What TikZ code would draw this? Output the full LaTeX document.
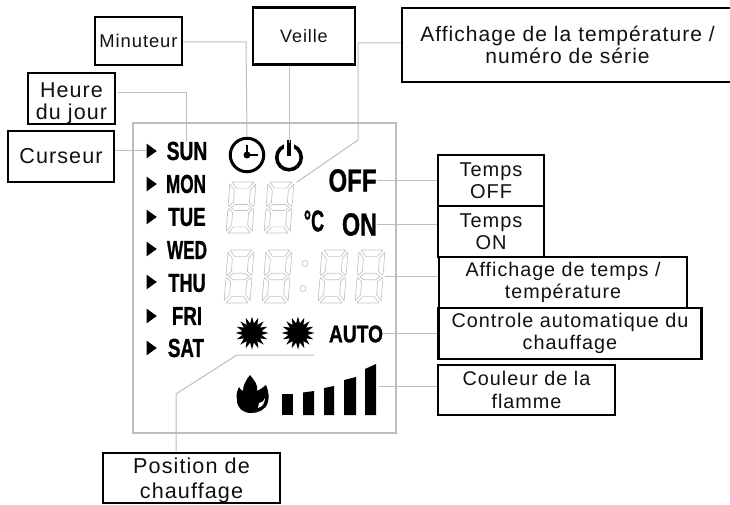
\documentclass[tikz,border=0pt]{standalone}
\usepackage{fontspec}
\setmainfont{Liberation Sans}
\newfontfamily\labfont[LetterSpace=5]{Liberation Sans}
\newfontfamily\lcdfont[UprightFont=* Bold,FakeBold=1.2]{Liberation Sans}
\usetikzlibrary{arrows.meta,shapes.geometric}
\definecolor{lcdgray}{HTML}{BDBDBD}
\definecolor{seggray}{HTML}{C4C4C4}
\definecolor{ink}{HTML}{111111}
\newcommand{\segdigit}[3]{%
\begin{scope}[shift={(#1+4,#2)},yscale=#3/50,xslant=0.08,seg]
\draw (3,0)--(25,0)--(20,6)--(8,6)--cycle;
\draw (3,50)--(25,50)--(20,44)--(8,44)--cycle;
\draw (4,25)--(8,22)--(20,22)--(24,25)--(20,28)--(8,28)--cycle;
\draw (1,2)--(6,8)--(6,20)--(2,24)--(1,22)--cycle;
\draw (27,2)--(22,8)--(22,20)--(26,24)--(27,22)--cycle;
\draw (1,48)--(6,42)--(6,30)--(2,26)--(1,28)--cycle;
\draw (27,48)--(22,42)--(22,30)--(26,26)--(27,28)--cycle;
\end{scope}}
\tikzset{
 x=1pt,y=-1pt,
 lab/.style={draw=black,line width=2.2pt,fill=white,inner sep=0pt,align=center,text=ink},
 lz/.style={font=\labfont\fontsize{#1}{22.5}\selectfont},
 lead/.style={draw=lcdgray,line width=1pt},
 seg/.style={draw=seggray,line width=.7pt,line join=round},
 lcd/.style={inner sep=0pt,text=black,transform shape,font=\lcdfont\fontsize{26}{26}\selectfont},
 cursor/.style={fill=black,draw=none,regular polygon,regular polygon sides=3,shape border rotate=-90,inner sep=0pt,minimum size=17pt},
 bar/.style={fill=black,draw=none},
}
\begin{document}
\begin{tikzpicture}
\useasboundingbox (0,0) rectangle (730,505);
% LCD frame
\node[draw=lcdgray,line width=1.2pt,minimum width=263,minimum height=310,inner sep=0pt] (frame) at (264.5,278) {};
% Labels
\node[lab,lz=18.4,minimum width=87,minimum height=48] (minuteur) at (138.5,41) {Minuteur};
\node[lab,lz=18,minimum width=102,minimum height=57] (veille) at (304,36) {Veille};
\node[lab,lz=21.5,minimum width=87,minimum height=51] (heure) at (71.5,98.5) {\rule{0pt}{4pt}\\[-2.5pt]Heure\\du jour};
\node[lab,lz=21.6,minimum width=106,minimum height=51] (curseur) at (61,156.5) {Curseur};
\node[lab,lz=21,minimum width=331,minimum height=74] (temp) at (567.5,45) {Affichage de la température /\\numéro de série};
\node[lab,lz=20,minimum width=106,minimum height=51] (toff) at (491,180.5) {Temps\\OFF};
\node[lab,lz=20,minimum width=106,minimum height=51] (ton) at (491,231.5) {Temps\\ON};
\node[lab,lz=19.7,minimum width=248,minimum height=51] (tdisp) at (563,282.5) {Affichage de temps /\\température};
\node[lab,lz=19.8,minimum width=263,minimum height=51] (autoc) at (570,333.5) {Controle automatique du\\chauffage};
\node[lab,lz=19.8,minimum width=177,minimum height=50] (flamec) at (526.5,390) {Couleur de la\\flamme};
\node[draw=black,line width=2.2pt,fill=white,minimum width=177,minimum height=50,inner sep=0pt] (pos) at (191.5,478) {};
\node[inner sep=0pt,align=center,text=ink,font=\labfont\fontsize{21.6}{24.5}\selectfont] (postext) at (191.5,480.5) {Position de\\chauffage};
% Weekdays
\foreach \n/\t/\px/\py/\s in {sun/SUN/187/151/.74,mon/MON/186/184/.66,tue/TUE/187/217/.72,wed/WED/187/250/.66,thu/THU/187/283/.70,fri/FRI/187/316/.72,sat/SAT/186/348/.72}
  \node[lcd,xscale=\s] (\n) at (\px,\py) {\t};
\foreach \n/\px/\py in {c1/150/151,c2/150/184,c3/150/217,c4/150/249,c5/150/282,c6/150/316,c7/150/348}
  \node[cursor,xscale=.8] (\n) at (\px,\py) {};
% Status text
\node[lcd,xscale=.75,font=\lcdfont\fontsize{32}{32}\selectfont] (off) at (352.5,180.5) {OFF};
\node[lcd,xscale=.73,font=\lcdfont\fontsize{32}{32}\selectfont] (on) at (359.5,224.5) {ON};
\node[lcd,xscale=.8,font=\lcdfont\fontsize{24}{24}\selectfont] (auto) at (356,334) {AUTO};
\node[lcd,xscale=.6,font=\lcdfont\fontsize{30}{30}\selectfont] (cels) at (314,221) {°C};
% Clock
\node[draw=black,line width=3pt,circle,minimum size=33.5pt,inner sep=0pt] (clock) at (247,155) {};
\draw[black,line width=2.4pt] (clock.center) ++(0,-10) -- (clock.center) -- ++(11,0);
\fill[black] (clock.center) circle (3.5);
% Power
\node[draw=black,line width=3.6pt,circle,minimum size=24.5pt,inner sep=0pt] (power) at (289,157.5) {};
\fill[white] (284,141) rectangle (294,149);
\draw[black,line width=3.6pt] (289,140) -- (289,156);
% Digits
\segdigit{225}{182}{51}
\segdigit{263}{182}{51}
\segdigit{223}{250}{53}
\segdigit{261}{250}{53}
\segdigit{317}{250}{53}
\segdigit{354}{250}{53}
\node[draw=seggray,line width=.7pt,circle,minimum size=6pt,inner sep=0pt] (dota) at (305,263.5) {};
\node[draw=seggray,line width=.7pt,circle,minimum size=6pt,inner sep=0pt] (dotb) at (303,288.5) {};
% Suns
\node[star,star points=16,star point ratio=1.7,fill=black,minimum size=33pt,inner sep=0pt] (suna) at (252,333) {};
\node[star,star points=16,star point ratio=1.7,fill=black,minimum size=33pt,inner sep=0pt] (sunb) at (298,333) {};
% Flame
\fill[black] (250,375) .. controls (255,381) and (258,385) .. (257,391)
  .. controls (260,390) and (262,388) .. (266,385)
  .. controls (269,392) and (269,398) .. (268,402)
  .. controls (266,410) and (258,413) .. (251,413)
  .. controls (243,413) and (237,408) .. (237,400)
  .. controls (236,395) and (237,391) .. (239,387)
  .. controls (240,389) and (241,390) .. (243,391)
  .. controls (243,385) and (246,380) .. (250,375) -- cycle;
\fill[white] (259,403) .. controls (262,403) and (264,401) .. (265,398) .. controls (265,403) and (262,407) .. (258,408) -- cycle;
% Bars
\fill[bar] (282,394) rectangle (293,415);
\fill[bar] (303,392.5) -- (314,391) -- (314,415) -- (303,415) -- cycle;
\fill[bar] (324,388) -- (334,386) -- (334,415) -- (324,415) -- cycle;
\fill[bar] (344,380) -- (356,377) -- (356,415) -- (344,415) -- cycle;
\fill[bar] (365,369) -- (376,364) -- (376,415) -- (365,415) -- cycle;
% Leader ends
\coordinate (a1) at (246,42);
\coordinate (a2) at (186,93);
\coordinate (a3) at (358,43);
\coordinate (a4) at (358,140);
\coordinate (a5) at (297,182);
\coordinate (a6) at (385,276);
\coordinate (a7) at (379,386);
\coordinate (a8) at (383,333);
\coordinate (a9) at (176,394);
\coordinate (a10) at (237,355);
\coordinate (a11) at (314,355);
\coordinate (a12) at (118,93);
% Leaders
\draw[lead] (minuteur.east |- a1) -- (a1) -- (clock.north);
\draw[lead] (a12) -- (a2) -- (sun.north -| a2);
\draw[lead] (veille.south -| power) -- (power.north);
\draw[lead] (temp.west |- a3) -- (a3) -- (a4) -- (a5);
\draw[lead] (curseur.east |- c1) -- (c1.west);
\draw[lead] (off.east) -- (toff.west |- off.east);
\draw[lead] (on.east) -- (ton.west |- on.east);
\draw[lead] (a6) -- (tdisp.west |- a6);
\draw[lead] (a8) -- (autoc.west |- a8);
\draw[lead] (a7) -- (flamec.west |- a7);
\draw[lead] (pos.north -| a9) -- (a9) -- (a10) -- (a11);
\end{tikzpicture}
\end{document}
